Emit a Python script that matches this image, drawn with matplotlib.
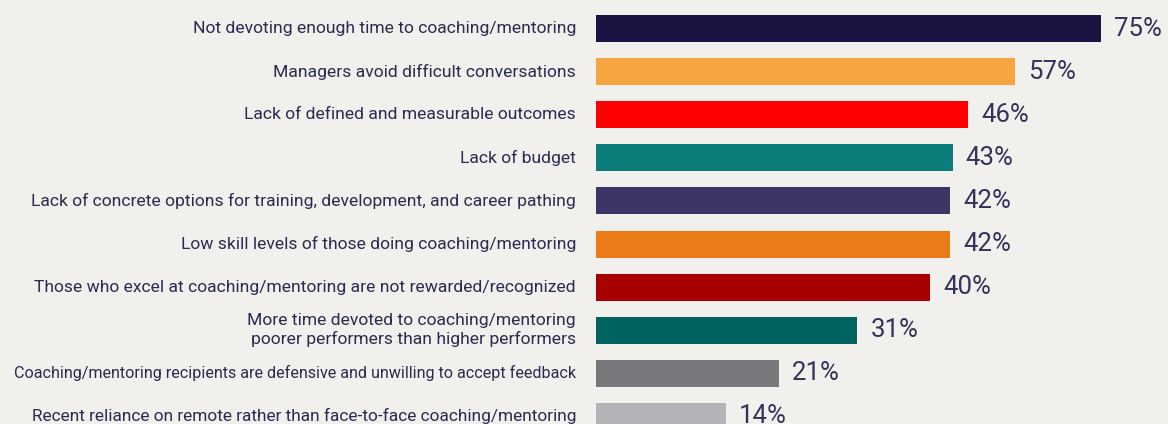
import numpy as np
import matplotlib.pyplot as plt

labels = [
    "Not devoting enough time to coaching/mentoring",
    "Managers avoid difficult conversations",
    "Lack of defined and measurable outcomes",
    "Lack of budget",
    "Lack of concrete options for training, development, and career pathing",
    "Low skill levels of those doing coaching/mentoring",
    "Those who excel at coaching/mentoring are not rewarded/recognized",
    "More time devoted to coaching/mentoring\npoorer performers than higher performers",
    "Coaching/mentoring recipients are defensive and unwilling to accept feedback",
    "Recent reliance on remote rather than face-to-face coaching/mentoring",
]
percent = [75, 57, 46, 43, 42, 42, 40, 31, 21, 14]
# drawn bar lengths as they appear in the picture (not proportional to percent)
bar_lengths = [75, 62.2, 55.3, 53.0, 52.6, 52.6, 49.6, 38.8, 27.2, 19.3]
colors = ["#191442", "#f7a541", "#ff0000", "#0b7e7b", "#3c3667",
          "#eb7a18", "#a80000", "#006360", "#78777c", "#b4b3b8"]

BG = "#f1f0ec"
TXT = "#2b2a50"

plt.rcParams["font.family"] = ["Roboto", "DejaVu Sans"]

W, H = 1168, 424
fig = plt.figure(figsize=(W / 100, H / 100), dpi=100, facecolor=BG)
left = 596 / W
ax = fig.add_axes([left, 0, 1 - left, 1], facecolor=BG)

px_per_unit = 505 / 75
ax.set_xlim(0, (W - 596) / px_per_unit)
ax.set_ylim(H, 0)

y = 28.5 + 43.1 * np.arange(len(labels))
ax.barh(y, bar_lengths, height=27, color=colors, linewidth=0)

# a few lines are set tighter/looser in the original
label_size = {8: 11.65, 9: 12.4}

for i, (yi, length, p, lab) in enumerate(zip(y, bar_lengths, percent, labels)):
    ax.text(length + 13 / px_per_unit, yi, f"{p}%", va="center", ha="left",
            fontsize=18.5, color="#34325a")
    ax.text(-20 / px_per_unit, yi, lab, va="center", ha="right",
            fontsize=label_size.get(i, 12.6), color=TXT, linespacing=1.25,
            clip_on=False)

ax.axis("off")
fig.savefig("out.png", dpi=100, facecolor=BG)
